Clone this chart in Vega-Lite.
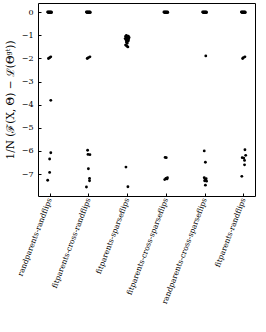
{
  "$schema": "https://vega.github.io/schema/vega-lite/v6.json",
  "width": 217,
  "height": 193,
  "padding": {"left": 5, "top": 3, "right": 4, "bottom": 0},
  "config": {
    "view": {"stroke": "#000", "strokeWidth": 1},
    "font": "DejaVu Serif",
    "axis": {"grid": false, "domain": false, "tickColor": "#000", "labelColor": "#000", "titleColor": "#000", "labelFont": "DejaVu Serif", "titleFont": "DejaVu Serif", "titleFontWeight": "normal"}
  },
  "data": {"values": [
    {"c":"randparents-randflips","v":0.01,"j":-0.05},{"c":"randparents-randflips","v":0.0,"j":-0.04},{"c":"randparents-randflips","v":-0.01,"j":-0.025},{"c":"randparents-randflips","v":0.01,"j":-0.01},{"c":"randparents-randflips","v":0.0,"j":0.0},{"c":"randparents-randflips","v":-0.01,"j":0.01},{"c":"randparents-randflips","v":0.0,"j":0.025},{"c":"randparents-randflips","v":0.01,"j":0.04},{"c":"randparents-randflips","v":-0.01,"j":0.05},{"c":"randparents-randflips","v":0.0,"j":-0.02},{"c":"randparents-randflips","v":0.0,"j":0.02},
    {"c":"randparents-randflips","v":-1.93,"j":0.03},{"c":"randparents-randflips","v":-1.97,"j":0.0},{"c":"randparents-randflips","v":-2.0,"j":-0.03},
    {"c":"randparents-randflips","v":-3.81,"j":0.03},
    {"c":"randparents-randflips","v":-6.08,"j":0.03},{"c":"randparents-randflips","v":-6.35,"j":0.0},{"c":"randparents-randflips","v":-6.93,"j":0.0},{"c":"randparents-randflips","v":-7.27,"j":-0.05},

    {"c":"fitparents-cross-randflips","v":0.01,"j":-0.05},{"c":"fitparents-cross-randflips","v":0.0,"j":-0.04},{"c":"fitparents-cross-randflips","v":-0.01,"j":-0.025},{"c":"fitparents-cross-randflips","v":0.01,"j":-0.01},{"c":"fitparents-cross-randflips","v":0.0,"j":0.0},{"c":"fitparents-cross-randflips","v":-0.01,"j":0.01},{"c":"fitparents-cross-randflips","v":0.0,"j":0.025},{"c":"fitparents-cross-randflips","v":0.01,"j":0.04},{"c":"fitparents-cross-randflips","v":-0.01,"j":0.05},{"c":"fitparents-cross-randflips","v":0.0,"j":-0.02},{"c":"fitparents-cross-randflips","v":0.0,"j":0.02},
    {"c":"fitparents-cross-randflips","v":-1.93,"j":0.04},{"c":"fitparents-cross-randflips","v":-1.97,"j":0.0},{"c":"fitparents-cross-randflips","v":-2.0,"j":-0.03},
    {"c":"fitparents-cross-randflips","v":-5.97,"j":-0.02},{"c":"fitparents-cross-randflips","v":-6.15,"j":-0.01},{"c":"fitparents-cross-randflips","v":-6.16,"j":0.04},{"c":"fitparents-cross-randflips","v":-6.77,"j":0.0},{"c":"fitparents-cross-randflips","v":-7.19,"j":0.03},{"c":"fitparents-cross-randflips","v":-7.29,"j":0.03},{"c":"fitparents-cross-randflips","v":-7.56,"j":-0.05},

    {"c":"fitparents-sparseflips","v":-1.0,"j":-0.02},{"c":"fitparents-sparseflips","v":-1.03,"j":0.03},{"c":"fitparents-sparseflips","v":-1.05,"j":-0.04},{"c":"fitparents-sparseflips","v":-1.07,"j":0.01},{"c":"fitparents-sparseflips","v":-1.09,"j":0.05},{"c":"fitparents-sparseflips","v":-1.1,"j":-0.02},{"c":"fitparents-sparseflips","v":-1.12,"j":0.02},{"c":"fitparents-sparseflips","v":-1.14,"j":-0.05},{"c":"fitparents-sparseflips","v":-1.15,"j":0.04},{"c":"fitparents-sparseflips","v":-1.17,"j":0.0},{"c":"fitparents-sparseflips","v":-1.19,"j":-0.03},{"c":"fitparents-sparseflips","v":-1.21,"j":0.03},{"c":"fitparents-sparseflips","v":-1.23,"j":-0.01},{"c":"fitparents-sparseflips","v":-1.26,"j":0.02},{"c":"fitparents-sparseflips","v":-1.29,"j":-0.02},{"c":"fitparents-sparseflips","v":-1.34,"j":0.0},{"c":"fitparents-sparseflips","v":-1.42,"j":-0.04},{"c":"fitparents-sparseflips","v":-1.46,"j":-0.01},{"c":"fitparents-sparseflips","v":-1.5,"j":0.02},
    {"c":"fitparents-sparseflips","v":-6.7,"j":-0.03},{"c":"fitparents-sparseflips","v":-7.55,"j":0.02},

    {"c":"fitparents-cross-sparseflips","v":0.01,"j":-0.05},{"c":"fitparents-cross-sparseflips","v":0.0,"j":-0.04},{"c":"fitparents-cross-sparseflips","v":-0.01,"j":-0.025},{"c":"fitparents-cross-sparseflips","v":0.01,"j":-0.01},{"c":"fitparents-cross-sparseflips","v":0.0,"j":0.0},{"c":"fitparents-cross-sparseflips","v":-0.01,"j":0.01},{"c":"fitparents-cross-sparseflips","v":0.0,"j":0.025},{"c":"fitparents-cross-sparseflips","v":0.01,"j":0.04},{"c":"fitparents-cross-sparseflips","v":-0.01,"j":0.05},{"c":"fitparents-cross-sparseflips","v":0.0,"j":-0.02},{"c":"fitparents-cross-sparseflips","v":0.0,"j":0.02},
    {"c":"fitparents-cross-sparseflips","v":-6.28,"j":-0.02},{"c":"fitparents-cross-sparseflips","v":-6.29,"j":0.01},{"c":"fitparents-cross-sparseflips","v":-7.16,"j":0.04},{"c":"fitparents-cross-sparseflips","v":-7.19,"j":0.0},{"c":"fitparents-cross-sparseflips","v":-7.21,"j":0.03},{"c":"fitparents-cross-sparseflips","v":-7.24,"j":-0.03},

    {"c":"randparents-cross-sparseflips","v":0.01,"j":-0.05},{"c":"randparents-cross-sparseflips","v":0.0,"j":-0.04},{"c":"randparents-cross-sparseflips","v":-0.01,"j":-0.025},{"c":"randparents-cross-sparseflips","v":0.01,"j":-0.01},{"c":"randparents-cross-sparseflips","v":0.0,"j":0.0},{"c":"randparents-cross-sparseflips","v":-0.01,"j":0.01},{"c":"randparents-cross-sparseflips","v":0.0,"j":0.025},{"c":"randparents-cross-sparseflips","v":0.01,"j":0.04},{"c":"randparents-cross-sparseflips","v":-0.01,"j":0.05},{"c":"randparents-cross-sparseflips","v":0.0,"j":-0.02},{"c":"randparents-cross-sparseflips","v":0.0,"j":0.02},
    {"c":"randparents-cross-sparseflips","v":-1.89,"j":0.03},
    {"c":"randparents-cross-sparseflips","v":-6.0,"j":-0.01},{"c":"randparents-cross-sparseflips","v":-6.49,"j":0.02},{"c":"randparents-cross-sparseflips","v":-7.16,"j":-0.01},{"c":"randparents-cross-sparseflips","v":-7.2,"j":0.04},{"c":"randparents-cross-sparseflips","v":-7.25,"j":0.02},{"c":"randparents-cross-sparseflips","v":-7.29,"j":0.0},{"c":"randparents-cross-sparseflips","v":-7.31,"j":0.05},{"c":"randparents-cross-sparseflips","v":-7.48,"j":0.02},

    {"c":"fitparents-randflips","v":0.01,"j":-0.05},{"c":"fitparents-randflips","v":0.0,"j":-0.04},{"c":"fitparents-randflips","v":-0.01,"j":-0.025},{"c":"fitparents-randflips","v":0.01,"j":-0.01},{"c":"fitparents-randflips","v":0.0,"j":0.0},{"c":"fitparents-randflips","v":-0.01,"j":0.01},{"c":"fitparents-randflips","v":0.0,"j":0.025},{"c":"fitparents-randflips","v":0.01,"j":0.04},{"c":"fitparents-randflips","v":-0.01,"j":0.05},{"c":"fitparents-randflips","v":0.0,"j":-0.02},{"c":"fitparents-randflips","v":0.0,"j":0.02},
    {"c":"fitparents-randflips","v":-1.93,"j":0.04},{"c":"fitparents-randflips","v":-1.97,"j":0.0},{"c":"fitparents-randflips","v":-2.0,"j":-0.02},
    {"c":"fitparents-randflips","v":-5.95,"j":0.04},{"c":"fitparents-randflips","v":-6.19,"j":0.06},{"c":"fitparents-randflips","v":-6.29,"j":-0.03},{"c":"fitparents-randflips","v":-6.31,"j":0.01},{"c":"fitparents-randflips","v":-6.41,"j":0.03},{"c":"fitparents-randflips","v":-6.6,"j":0.03},{"c":"fitparents-randflips","v":-7.1,"j":-0.04}
  ]},
  "mark": {"type": "circle", "size": 8, "color": "#000", "opacity": 1},
  "encoding": {
    "x": {
      "field": "c", "type": "nominal", "sort": null,
      "scale": {"type": "point", "padding": 0.3},
      "axis": {"title": null, "labelAngle": -69, "labelFontSize": 7.5, "tickSize": -3, "labelPadding": 5}
    },
    "xOffset": {"field": "j", "type": "quantitative", "scale": {"domain": [-0.5, 0.5], "range": [-19.4, 19.4]}},
    "y": {
      "field": "v", "type": "quantitative",
      "scale": {"domain": [-7.95, 0.4], "nice": false, "zero": false},
      "axis": {"values": [0, -1, -2, -3, -4, -5, -6, -7], "labelExpr": "replace(datum.label, '-', '−')", "labelFontSize": 8, "tickSize": -3, "labelPadding": 8, "title": "1/N (ℱ(X, Θ) − ℒ(Θᵍᵗ))", "titleFontSize": 10.5, "titlePadding": 6}
    }
  }
}
